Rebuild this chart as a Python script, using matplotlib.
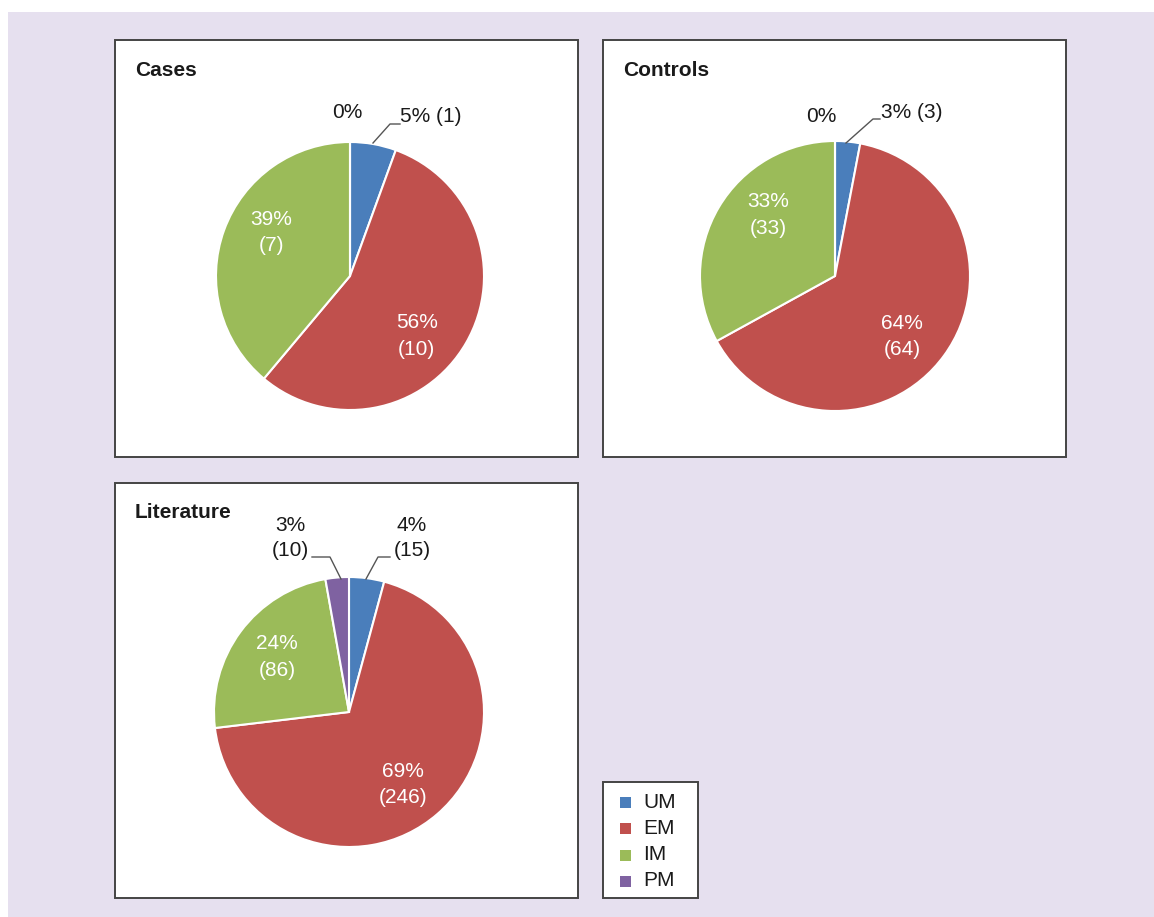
import numpy as np
import matplotlib.pyplot as plt
from matplotlib.patches import Rectangle

plt.rcParams['font.family'] = ['Liberation Sans', 'DejaVu Sans']

categories = ['UM', 'EM', 'IM', 'PM']
colors = ['#4A7EBB', '#C0504D', '#9BBB59', '#7F62A1']

cases = [1, 10, 7, 0]
controls = [3, 64, 33, 0]
literature = [15, 246, 86, 10]

cases_pct = ['5%', '56%', '39%', '0%']
controls_pct = ['3%', '64%', '33%', '0%']
literature_pct = ['4%', '69%', '24%', '3%']

W, H = 1154, 917
LAVENDER = '#E6E0EF'
FONT = 15


def Y(y):
    # image row (from top) -> data y
    return H - y


def panel(ax, x0, y0, x1, y1, title):
    ax.add_patch(Rectangle((x0, Y(y1)), x1 - x0, y1 - y0, facecolor='white',
                           edgecolor='#444444', linewidth=1.4, zorder=1))
    ax.text(x0 + 20, Y(y0 + 30), title, fontsize=15, fontweight='bold',
            ha='left', va='center', color='#1a1a1a', zorder=5)


def draw_pie(ax, values, pcts, cx, cy, r, inner_nudge):
    wedges, _ = ax.pie(values, colors=colors, startangle=90, counterclock=False,
                       center=(cx, Y(cy)), radius=r, frame=True,
                       wedgeprops=dict(edgecolor='white', linewidth=1.5, zorder=3))
    # white labels inside the big slices (EM, IM)
    for i in (1, 2):
        w = wedges[i]
        ang = np.deg2rad((w.theta1 + w.theta2) / 2 + inner_nudge[i])
        d = 0.67 * r
        ax.text(cx + d * np.cos(ang), Y(cy) + d * np.sin(ang),
                f'{pcts[i]}\n({values[i]})', color='white', fontsize=FONT,
                ha='center', va='center', linespacing=1.5, zorder=5)
    return wedges


fig = plt.figure(figsize=(W / 100, H / 100), dpi=100)
ax = fig.add_axes([0, 0, 1, 1])
ax.add_patch(Rectangle((8, 0), W - 8, H - 12, facecolor=LAVENDER, edgecolor='none', zorder=0))

# Cases
panel(ax, 115, 40, 578, 457, 'Cases')
draw_pie(ax, cases, cases_pct, 350, 276, 134, {1: -12, 2: -9})
ax.text(347, Y(112), cases_pct[3], fontsize=FONT, ha='center', va='center', color='#1a1a1a')
ax.plot([373, 390, 400], [Y(143), Y(124), Y(124)], color='#555555', lw=1, zorder=4)
ax.text(400, Y(116), f'{cases_pct[0]} ({cases[0]})', fontsize=FONT, ha='left',
        va='center', color='#1a1a1a')

# Controls
panel(ax, 603, 40, 1066, 457, 'Controls')
draw_pie(ax, controls, controls_pct, 835, 276, 135, {1: -6, 2: -12})
ax.text(821, Y(117), controls_pct[3], fontsize=FONT, ha='center', va='center', color='#1a1a1a')
ax.plot([846, 873, 880], [Y(143), Y(119), Y(119)], color='#555555', lw=1, zorder=4)
ax.text(881, Y(112), f'{controls_pct[0]} ({controls[0]})', fontsize=FONT, ha='left',
        va='center', color='#1a1a1a')

# Literature
panel(ax, 115, 483, 578, 898, 'Literature')
draw_pie(ax, literature, literature_pct, 349, 712, 135, {1: -4, 2: -1})
ax.plot([341, 330, 312], [Y(579), Y(557), Y(557)], color='#555555', lw=1, zorder=4)
ax.text(290, Y(538), f'{literature_pct[3]}\n({literature[3]})', fontsize=FONT,
        ha='center', va='center', linespacing=1.35, color='#1a1a1a')
ax.plot([366, 378, 390], [Y(579), Y(557), Y(557)], color='#555555', lw=1, zorder=4)
ax.text(412, Y(538), f'{literature_pct[0]}\n({literature[0]})', fontsize=FONT,
        ha='center', va='center', linespacing=1.35, color='#1a1a1a')

# Legend
ax.add_patch(Rectangle((603, Y(898)), 95, 116, facecolor='white', edgecolor='#444444',
                       linewidth=1.4, zorder=1))
row_y = [802, 828, 855, 881]
for name, col, ry in zip(categories, colors, row_y):
    ax.add_patch(Rectangle((620, Y(ry) - 5.5), 11, 11, facecolor=col, edgecolor='none', zorder=3))
    ax.text(643, Y(ry), name, fontsize=FONT, ha='left', va='center', color='#1a1a1a')

ax.set_xlim(0, W)
ax.set_ylim(0, H)
ax.set_aspect('auto')
ax.axis('off')

fig.savefig('out.png', dpi=100, facecolor='white')
